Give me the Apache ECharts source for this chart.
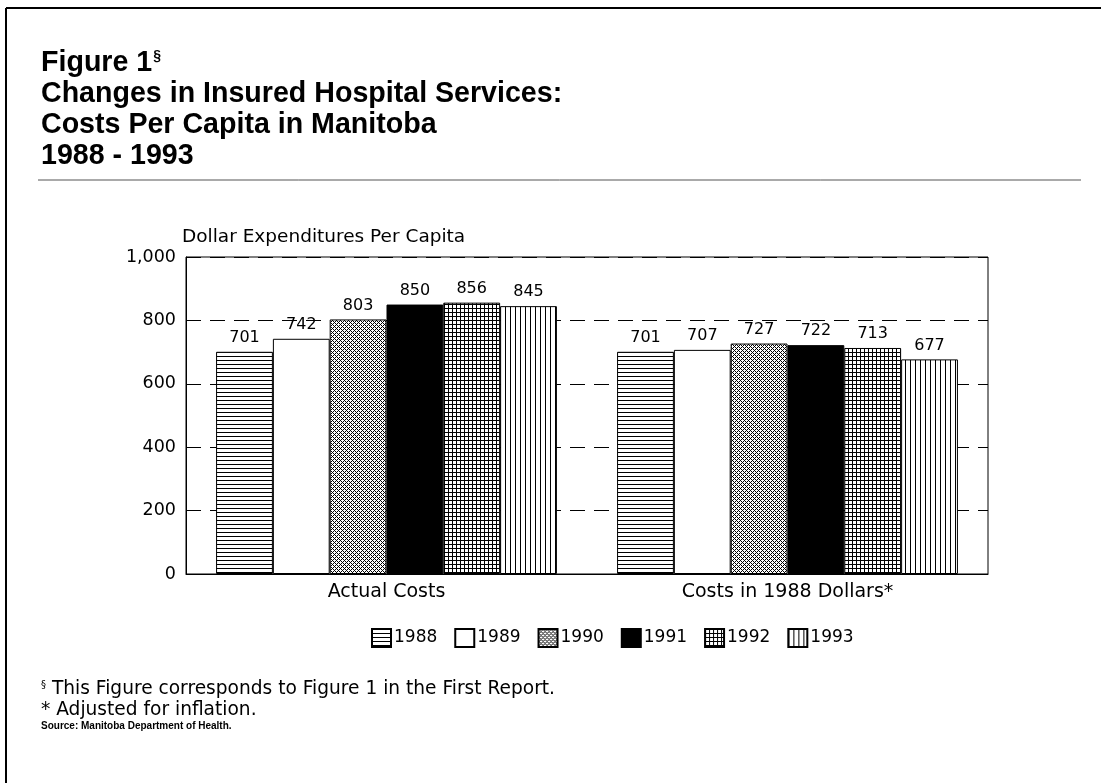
<!DOCTYPE html>
<html lang="en">
    <head>
        <title>Figure 1 - Insured Hospital Services</title>
        <meta charset="utf-8">
        <script src='https://cdn.jsdelivr.net/npm/echarts@6/dist/echarts.min.js'></script>
    </head>

    <style>
        html, body, #main {
            width: 100%;
            height: 100%;
            margin: 0;
            background: #fff;
        }
    </style>

    <body>
        <div id='main'></div>

        <script>
            const categories = ['Actual Costs', 'Costs in 1988 Dollars*'];
            const years = ['1988', '1989', '1990', '1991', '1992', '1993'];
            const v1988 = [701, 701];
            const v1989 = [742, 707];
            const v1990 = [803, 727];
            const v1991 = [850, 722];
            const v1992 = [856, 713];
            const v1993 = [845, 677];
            const yTicks = [0, 200, 400, 600, 800, 1000];

            const HEAD = "'Liberation Sans', Arial, Helvetica, sans-serif";
            const BODY = "'DejaVu Sans', 'Liberation Sans', sans-serif";

            // little canvas tiles used as bar fills
            function tile(size, draw) {
                const c = document.createElement('canvas');
                c.width = size;
                c.height = size;
                const ctx = c.getContext('2d');
                ctx.fillStyle = '#fff';
                ctx.fillRect(0, 0, size, size);
                ctx.fillStyle = '#000';
                draw(ctx, size);
                return { image: c, repeat: 'repeat' };
            }

            const fills = [
                tile(4, (ctx, s) => ctx.fillRect(0, 0, s, 1)),
                '#fff',
                tile(4, (ctx, s) => {
                    for (let x = 0; x < s; x++) {
                        for (let y = 0; y < s; y++) {
                            if ((x + y) % 4 === 0 || (x - y + 4) % 4 === 0) ctx.fillRect(x, y, 1, 1);
                        }
                    }
                }),
                '#000',
                tile(4, (ctx, s) => { ctx.fillRect(0, 0, s, 1); ctx.fillRect(0, 0, 1, s); }),
                tile(5, (ctx, s) => ctx.fillRect(0, 0, 1, s))
            ];

            const values = [v1988, v1989, v1990, v1991, v1992, v1993];

            const series = years.map((y, i) => ({
                name: y,
                type: 'bar',
                data: values[i],
                barGap: '0%',
                barCategoryGap: '15%',
                itemStyle: { color: fills[i], borderColor: '#000', borderWidth: 1 },
                label: {
                    show: true,
                    position: 'top',
                    distance: 6,
                    color: '#000',
                    fontFamily: BODY,
                    fontSize: 16
                }
            }));

            const chart = echarts.init(document.getElementById('main'));

            const headStyle = { fontFamily: HEAD, fontSize: 28.6, fontWeight: 'bold', color: '#000' };
            const noteStyle = { fontFamily: BODY, fontSize: 18.6, fontWeight: 'normal', color: '#000' };

            const option = {
                backgroundColor: '#fff',
                animation: false,
                title: [
                    {
                        text: 'Figure 1{sup|§}', left: 36, top: 44,
                        textStyle: Object.assign({}, headStyle, {
                            rich: { sup: { fontFamily: HEAD, fontSize: 14, fontWeight: 'bold', color: '#000', verticalAlign: 'top', padding: [0, 0, 12, 1] } }
                        })
                    },
                    { text: 'Changes in Insured Hospital Services:', left: 36, top: 75, textStyle: headStyle },
                    { text: 'Costs Per Capita in Manitoba', left: 36, top: 106, textStyle: headStyle },
                    { text: '1988 - 1993', left: 36, top: 137, textStyle: headStyle },
                    {
                        text: '{sup|§} This Figure corresponds to Figure 1 in the First Report.', left: 36, top: 675,
                        textStyle: Object.assign({}, noteStyle, {
                            rich: { sup: { fontFamily: BODY, fontSize: 10, color: '#000', padding: [0, 0, 8, 0] } }
                        })
                    },
                    { text: '* Adjusted for inflation.', left: 36, top: 696, textStyle: noteStyle },
                    { text: 'Source: Manitoba Department of Health.', left: 36, top: 716, textStyle: { fontFamily: HEAD, fontSize: 10, fontWeight: 'bold', color: '#000' } }
                ],
                graphic: [
                    { type: 'line', shape: { x1: 6, y1: 8, x2: 1101, y2: 8 }, style: { stroke: '#000', lineWidth: 2 } },
                    { type: 'line', shape: { x1: 6, y1: 8, x2: 6, y2: 783 }, style: { stroke: '#000', lineWidth: 2 } },
                    { type: 'line', shape: { x1: 38, y1: 180, x2: 1081, y2: 180 }, style: { stroke: '#555', lineWidth: 1 } }
                ],
                legend: {
                    data: years,
                    left: 366,
                    top: 623,
                    icon: 'rect',
                    itemWidth: 19,
                    itemHeight: 18,
                    itemGap: 17,
                    textStyle: { fontFamily: BODY, fontSize: 17, color: '#000', padding: [0, 0, 0, -2] }
                },
                grid: {
                    left: 186,
                    right: 113,
                    top: 257,
                    bottom: 209,
                    show: true,
                    borderColor: '#000',
                    borderWidth: 1,
                    containLabel: false
                },
                xAxis: {
                    type: 'category',
                    data: categories,
                    axisLine: { show: true, lineStyle: { color: '#000' } },
                    axisTick: { show: false },
                    axisLabel: { fontFamily: BODY, fontSize: 19, color: '#000', margin: 9 }
                },
                yAxis: {
                    type: 'value',
                    min: yTicks[0],
                    max: yTicks[yTicks.length - 1],
                    interval: 200,
                    name: 'Dollar Expenditures Per Capita',
                    nameLocation: 'end',
                    nameGap: 10,
                    nameTextStyle: { fontFamily: BODY, fontSize: 18.5, color: '#000', align: 'left', padding: [0, 0, 0, -4] },
                    axisLine: { show: true, lineStyle: { color: '#000' } },
                    axisTick: { show: false },
                    axisLabel: {
                        fontFamily: BODY, fontSize: 17.5, color: '#000', margin: 10,
                        formatter: v => v.toLocaleString('en-US')
                    },
                    splitLine: { show: true, lineStyle: { color: '#000', type: [15, 9], width: 1 } }
                },
                series: series
            };

            chart.setOption(option);

            window.onresize = function () {
                chart.resize();
            }
        </script>
    </body>
</html>
